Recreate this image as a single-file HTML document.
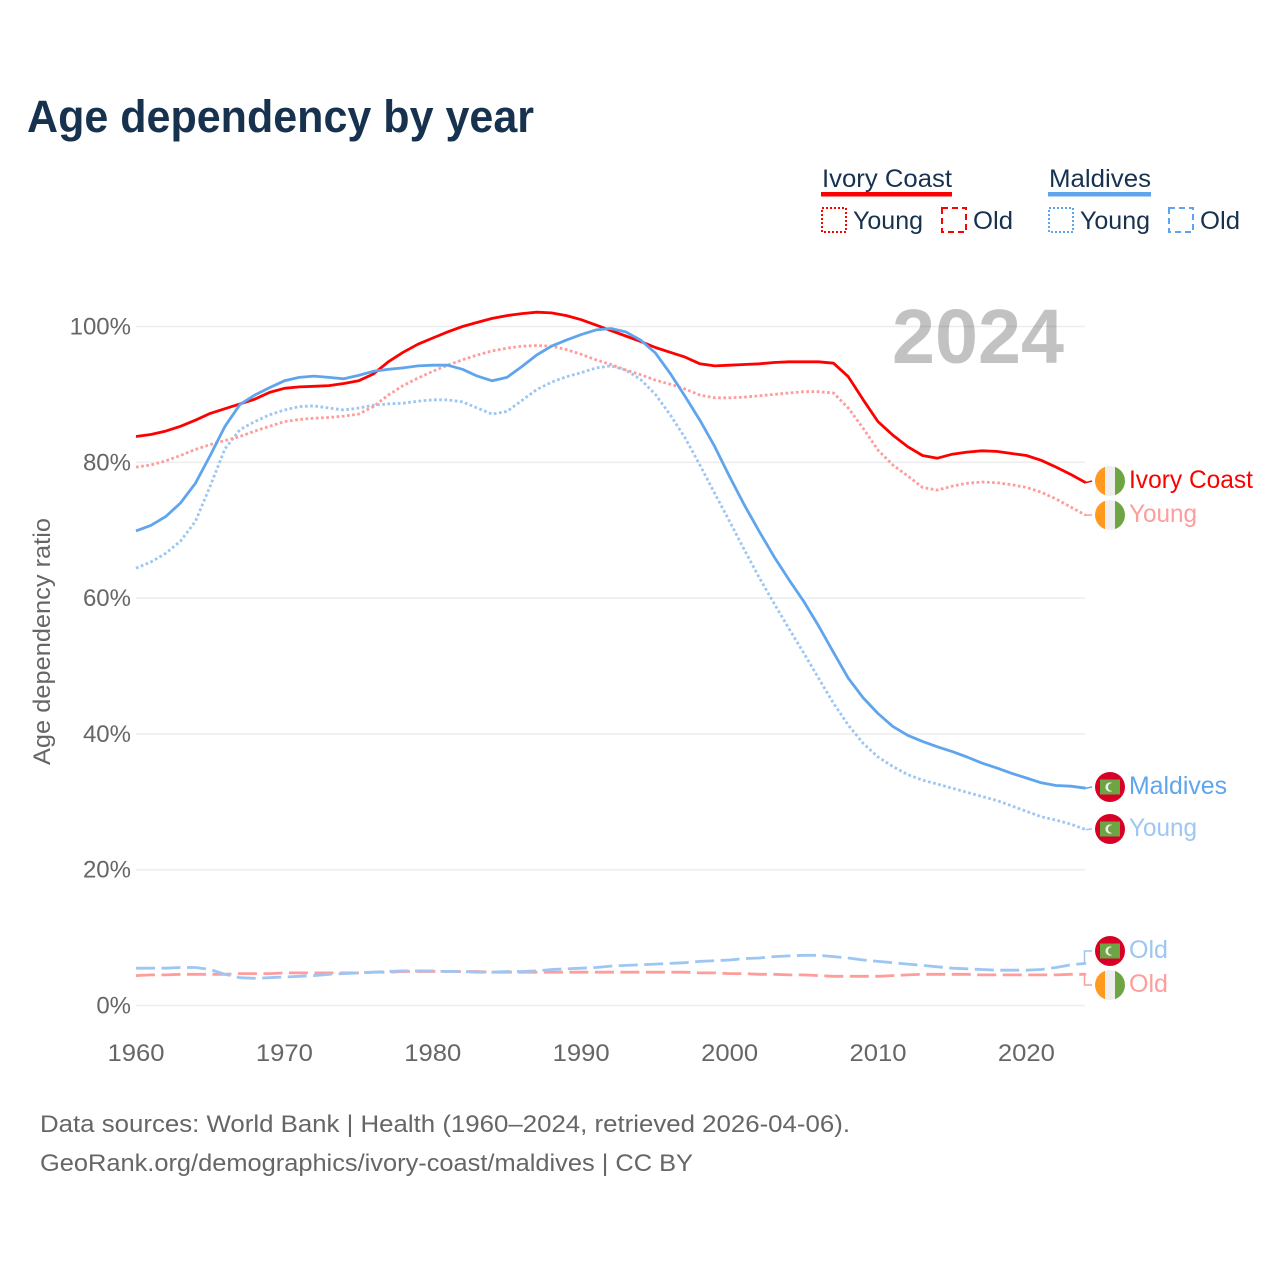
<!DOCTYPE html>
<html lang="en">
<head>
<meta charset="utf-8">
<title>Age dependency by year</title>
<style>
html,body{margin:0;padding:0;background:#fff}
svg{display:block}
text{font-family:"Liberation Sans",sans-serif}
</style>
</head>
<body>
<svg id="chart" xmlns="http://www.w3.org/2000/svg" width="1280" height="1280" viewBox="0 0 1280 1280">
<rect width="1280" height="1280" fill="#fff"/>
<text x="27" y="132" font-size="45" font-weight="700" fill="#17324f" textLength="507" lengthAdjust="spacingAndGlyphs">Age dependency by year</text>

<g font-size="25" fill="#17324f">
  <text x="822" y="187" textLength="130" lengthAdjust="spacingAndGlyphs">Ivory Coast</text>
  <rect x="821" y="192" width="131" height="4.5" fill="#ff0000"/>
  <rect x="822" y="208" width="24" height="24" fill="none" stroke="#ff0000" stroke-width="2" stroke-dasharray="2 2"/>
  <text x="853" y="229" textLength="70" lengthAdjust="spacingAndGlyphs">Young</text>
  <rect x="942" y="208" width="24" height="24" fill="none" stroke="#ff0000" stroke-width="2" stroke-dasharray="6 4"/>
  <text x="973" y="229" textLength="40" lengthAdjust="spacingAndGlyphs">Old</text>
  <text x="1049" y="187" textLength="102" lengthAdjust="spacingAndGlyphs">Maldives</text>
  <rect x="1048" y="192" width="103" height="4.5" fill="#5fa5ee"/>
  <rect x="1049" y="208" width="24" height="24" fill="none" stroke="#5fa5ee" stroke-width="2" stroke-dasharray="2 2"/>
  <text x="1080" y="229" textLength="70" lengthAdjust="spacingAndGlyphs">Young</text>
  <rect x="1169" y="208" width="24" height="24" fill="none" stroke="#5fa5ee" stroke-width="2" stroke-dasharray="6 4"/>
  <text x="1200" y="229" textLength="40" lengthAdjust="spacingAndGlyphs">Old</text>
</g>

<g id="grid"></g>
<g id="yticks" font-size="24" fill="#666"></g>
<g id="xticks" font-size="24" fill="#666"></g>
<text transform="translate(50,641.5) rotate(-90)" text-anchor="middle" font-size="24" fill="#666" textLength="247" lengthAdjust="spacingAndGlyphs">Age dependency ratio</text>
<text x="892" y="363" font-size="77" font-weight="700" fill="#000" fill-opacity="0.24" textLength="172" lengthAdjust="spacingAndGlyphs">2024</text>

<g id="series" fill="none" stroke-width="2.8"></g>

<defs>
  <clipPath id="flag-clip"><circle cx="0" cy="0" r="15"/></clipPath>
  <g id="flag-ci">
    <g clip-path="url(#flag-clip)">
      <rect x="-15" y="-15" width="10" height="30" fill="#ff9a1e"/>
      <rect x="-5" y="-15" width="10" height="30" fill="#eeeeee"/>
      <rect x="5" y="-15" width="10" height="30" fill="#6da544"/>
    </g>
  </g>
  <g id="flag-mv">
    <circle cx="0" cy="0" r="15" fill="#d80027"/>
    <rect x="-10" y="-7.5" width="20" height="15" fill="#6da544"/>
    <circle cx="0" cy="0" r="4.6" fill="#eeeeee"/>
    <circle cx="1.9" cy="0" r="3.9" fill="#6da544"/>
  </g>
</defs>

<g font-size="25">
  <use href="#flag-ci" x="1110" y="481"/>
  <text x="1129" y="488" fill="#ff0000" textLength="124" lengthAdjust="spacingAndGlyphs">Ivory Coast</text>
  <use href="#flag-ci" x="1110" y="515"/>
  <text x="1129" y="522" fill="#ff9c9c" textLength="68" lengthAdjust="spacingAndGlyphs">Young</text>
  <use href="#flag-mv" x="1110" y="787"/>
  <text x="1129" y="794" fill="#5fa5ee" textLength="98" lengthAdjust="spacingAndGlyphs">Maldives</text>
  <use href="#flag-mv" x="1110" y="829"/>
  <text x="1129" y="836" fill="#9dc6f3" textLength="68" lengthAdjust="spacingAndGlyphs">Young</text>
  <use href="#flag-mv" x="1110" y="951"/>
  <text x="1129" y="958" fill="#9dc6f3" textLength="39" lengthAdjust="spacingAndGlyphs">Old</text>
  <use href="#flag-ci" x="1110" y="985"/>
  <text x="1129" y="992" fill="#ff9c9c" textLength="39" lengthAdjust="spacingAndGlyphs">Old</text>
</g>

<g font-size="24.5" fill="#666">
  <text x="40" y="1132" textLength="810" lengthAdjust="spacingAndGlyphs">Data sources: World Bank | Health (1960–2024, retrieved 2026-04-06).</text>
  <text x="40" y="1171" textLength="653" lengthAdjust="spacingAndGlyphs">GeoRank.org/demographics/ivory-coast/maldives | CC BY</text>
</g>
</svg>

<script>
const startYear = 1960;
const xTickLabels = [1960, 1970, 1980, 1990, 2000, 2010, 2020];
const yTickLabels = [0, 20, 40, 60, 80, 100];

const ivoryTotal = [
  83.8,84.1,84.6,85.3,86.2,87.2,87.9,88.6,89.3,90.3,
  90.9,91.1,91.2,91.3,91.6,92.0,93.0,94.8,96.2,97.4,
  98.3,99.2,100.0,100.6,101.2,101.6,101.9,102.1,102.0,101.6,
  101.0,100.2,99.4,98.6,97.8,96.9,96.2,95.5,94.5,94.2,
  94.3,94.4,94.5,94.7,94.8,94.8,94.8,94.6,92.6,89.2,
  86.0,84.0,82.3,81.0,80.6,81.2,81.5,81.7,81.6,81.3,
  81.0,80.3,79.3,78.2,77.0
];
const ivoryYoung = [
  79.3,79.6,80.2,81.0,81.9,82.6,83.2,83.8,84.6,85.3,
  86.0,86.3,86.5,86.6,86.8,87.1,88.2,89.9,91.3,92.4,
  93.4,94.3,95.1,95.8,96.4,96.8,97.1,97.2,97.1,96.6,
  95.9,95.1,94.4,93.6,92.9,92.1,91.5,90.8,89.9,89.5,
  89.5,89.6,89.8,90.0,90.2,90.4,90.4,90.2,88.0,85.0,
  81.8,79.6,78.0,76.3,75.9,76.5,76.9,77.1,77.0,76.7,
  76.3,75.6,74.6,73.4,72.2
];
const ivoryOld = [
  4.4,4.5,4.5,4.6,4.6,4.6,4.6,4.7,4.7,4.7,
  4.8,4.8,4.8,4.8,4.8,4.8,4.9,4.9,5.0,5.0,
  5.0,5.0,5.0,5.0,4.9,4.9,4.9,4.9,4.9,4.9,
  4.9,4.9,4.9,4.9,4.9,4.9,4.9,4.9,4.8,4.8,
  4.7,4.7,4.6,4.6,4.5,4.5,4.4,4.3,4.3,4.3,
  4.3,4.4,4.5,4.6,4.6,4.6,4.6,4.5,4.5,4.5,
  4.5,4.5,4.5,4.6,4.6
];
const maldivesTotal = [
  69.9,70.7,72.0,74.0,76.9,81.0,85.3,88.5,89.9,91.0,
  92.0,92.5,92.7,92.5,92.3,92.8,93.4,93.7,93.9,94.2,
  94.3,94.3,93.7,92.7,92.0,92.5,94.1,95.8,97.1,98.0,
  98.8,99.5,99.7,99.2,98.0,96.1,93.1,89.7,86.2,82.3,
  77.9,73.7,69.8,66.1,62.7,59.5,55.9,52.0,48.2,45.3,
  43.0,41.1,39.8,38.9,38.1,37.4,36.6,35.7,35.0,34.2,
  33.5,32.8,32.4,32.3,32.0
];
const maldivesYoung = [
  64.4,65.3,66.6,68.4,71.3,76.5,82.0,84.8,86.0,87.0,
  87.7,88.2,88.3,88.0,87.7,88.0,88.4,88.6,88.7,89.0,
  89.2,89.2,88.9,88.0,87.1,87.5,89.1,90.7,91.8,92.6,
  93.2,93.9,94.2,93.6,92.2,90.0,87.0,83.6,79.6,75.4,
  71.3,67.1,63.0,59.2,55.5,51.9,48.2,44.5,41.3,38.6,
  36.6,35.2,34.0,33.2,32.6,32.0,31.4,30.8,30.2,29.4,
  28.6,27.8,27.3,26.7,25.9
];
const maldivesOld = [
  5.5,5.5,5.5,5.6,5.6,5.3,4.6,4.1,4.0,4.1,
  4.2,4.3,4.4,4.6,4.7,4.8,4.9,5.0,5.1,5.1,
  5.1,5.0,5.0,4.9,4.9,5.0,5.0,5.1,5.3,5.4,
  5.5,5.6,5.8,5.9,6.0,6.1,6.2,6.3,6.5,6.6,
  6.7,6.9,7.0,7.2,7.3,7.4,7.4,7.2,7.0,6.7,
  6.5,6.3,6.1,5.9,5.7,5.5,5.4,5.3,5.2,5.2,
  5.2,5.3,5.6,6.0,6.2
];

const NS = 'http://www.w3.org/2000/svg';
function xScale(year) { return 136 + (year - 1960) * 14.84; }
function yScale(pct) { return 1005.5 - pct * 6.79; }

const grid = document.getElementById('grid');
const yticks = document.getElementById('yticks');
const xticks = document.getElementById('xticks');
const series = document.getElementById('series');

yTickLabels.forEach(function (v) {
  const l = document.createElementNS(NS, 'line');
  
  
  l.setAttribute('x1', 136);
  l.setAttribute('x2', 1085);
  l.setAttribute('y1', yScale(v));
  l.setAttribute('y2', yScale(v));
  l.setAttribute('stroke', '#eeeeee');
  l.setAttribute('stroke-width', 1.6);
  grid.appendChild(l);
  const t = document.createElementNS(NS, 'text');
  
  
  t.setAttribute('x', 131);
  t.setAttribute('y', yScale(v) + 8);
  t.setAttribute('text-anchor', 'end');
  t.textContent = v + '%';
  yticks.appendChild(t);
});

xTickLabels.forEach(function (v) {
  const t = document.createElementNS(NS, 'text');
  
  
  t.setAttribute('x', xScale(v));
  t.setAttribute('y', 1061);
  t.setAttribute('text-anchor', 'middle');
  t.setAttribute('textLength', 57);
  t.setAttribute('lengthAdjust', 'spacingAndGlyphs');
  t.textContent = v;
  xticks.appendChild(t);
});

function drawSeries(values, name, color, dash, labelY, mode) {
  const pts = values.map(function (v, i) {
    return xScale(startYear + i).toFixed(1) + ',' + yScale(v).toFixed(1);
  });
  const p = document.createElementNS(NS, 'polyline');
  
  
  p.setAttribute('points', pts.join(' '));
  p.setAttribute('stroke', color);
  p.setAttribute('stroke-linejoin', 'round');
  if (dash) p.setAttribute('stroke-dasharray', dash);
  series.appendChild(p);

  const endX = xScale(startYear + values.length - 1);
  const endY = yScale(values[values.length - 1]);
  const c = document.createElementNS(NS, 'path');
  
  
  const d = mode === 'step'
    ? 'M' + (endX + 0.5) + ' ' + endY + 'H1084.5V' + labelY + 'H1092'
    : 'M' + endX + ' ' + endY + 'L1092 ' + labelY;
  c.setAttribute('d', d);
  c.setAttribute('stroke', color);
  c.setAttribute('stroke-width', 1.5);
  series.appendChild(c);
}

drawSeries(ivoryOld, 'ivory-coast-old-line', '#ff9c9c', '19 6.5', 985, 'step');
drawSeries(maldivesOld, 'maldives-old-line', '#9dc6f3', '19 6.5', 951, 'step');
drawSeries(maldivesYoung, 'maldives-young-line', '#9dc6f3', '2.7 2.5', 829, 'line');
drawSeries(ivoryYoung, 'ivory-coast-young-line', '#ff9c9c', '2.7 2.5', 515, 'line');
drawSeries(ivoryTotal, 'ivory-coast-total-line', '#ff0000', null, 481, 'line');
drawSeries(maldivesTotal, 'maldives-total-line', '#5fa5ee', null, 787, 'line');
</script>
</body>
</html>
